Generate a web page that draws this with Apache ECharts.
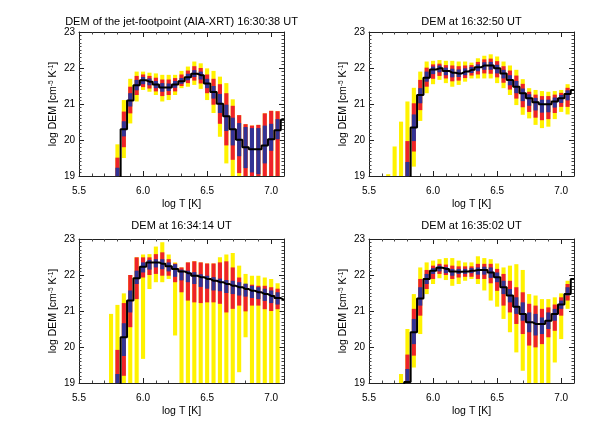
<!DOCTYPE html>
<html><head><meta charset="utf-8">
<script src="https://cdn.jsdelivr.net/npm/echarts@6/dist/echarts.min.js"></script>
<style>html,body{margin:0;padding:0;background:#fff}#c{width:598px;height:434px}</style>
</head><body><div id="c"></div>
<script>
// temperature bins (log T)
const logT = [5.65,5.70,5.75,5.80,5.85,5.90,5.95,6.00,6.05,6.10,6.15,6.20,6.25,6.30,6.35,6.40,6.45,6.50,6.55,6.60,6.65,6.70,6.75,6.80,6.85,6.90,6.95,7.00,7.05,7.10];
const xTicks = [5.5, 6.0, 6.5, 7.0];
const yTicks = [19, 20, 21, 22, 23];
const titles = ['DEM of the jet-footpoint (AIA-XRT) 16:30:38 UT','DEM at 16:32:50 UT','DEM at 16:34:14 UT','DEM at 16:35:02 UT'];

// Panel 1
const dem1   = [18.5,18.5,18.5,18.6,20.30,21.10,21.52,21.66,21.62,21.54,21.46,21.46,21.54,21.63,21.74,21.84,21.80,21.57,21.33,21.01,20.66,20.30,20.01,19.80,19.74,19.74,19.85,20.02,20.27,20.56];
const yelHi1 = [null,null,null,19.88,21.11,21.70,21.90,21.90,21.87,21.85,21.81,21.81,21.81,21.92,22.04,22.18,22.13,21.99,21.92,21.76,21.58,21.13,20.69,20.44,20.40,20.42,20.74,20.81,20.80,null];
const yelLo1 = [null,null,null,18,19.50,20.46,21.07,21.39,21.34,21.25,21.07,21.11,21.25,21.44,21.48,21.53,21.42,21.11,20.75,20.09,19.35,18,18,18,18,18,18,18,18,null];
const redHi1 = [null,null,null,19.51,20.79,21.48,21.78,21.82,21.78,21.73,21.68,21.68,21.72,21.82,21.93,22.05,22.00,21.82,21.70,21.55,21.30,20.95,20.69,20.44,20.40,20.42,20.74,20.81,20.80,null];
const redLo1 = [null,null,null,18,19.80,20.74,21.25,21.47,21.43,21.35,21.22,21.25,21.35,21.50,21.58,21.65,21.57,21.30,20.98,20.45,19.85,19.45,19.08,18,18,18,18,18,18,null];
const bluHi1 = [null,null,null,19.23,20.52,21.30,21.67,21.75,21.71,21.64,21.58,21.57,21.64,21.72,21.84,21.94,21.90,21.70,21.50,21.28,20.98,20.62,20.47,20.36,20.33,20.33,20.40,20.45,20.58,null];
const bluLo1 = [null,null,null,18,20.10,20.93,21.38,21.55,21.52,21.44,21.34,21.36,21.45,21.56,21.66,21.75,21.68,21.44,21.15,20.75,20.25,19.85,19.55,19.22,19.10,19.05,19.35,19.70,20.02,null];

// Panel 2
const dem2   = [18.5,18.5,18.5,18.6,20.35,21.25,21.73,21.96,21.99,21.92,21.87,21.85,21.90,21.95,22.02,22.07,22.07,21.99,21.85,21.67,21.48,21.30,21.16,21.05,20.99,20.99,21.07,21.16,21.28,21.39];
const yelHi2 = [19.05,19.82,20.51,21.07,21.45,21.90,22.18,22.20,22.22,22.20,22.20,22.18,22.18,22.15,22.27,22.34,22.38,22.32,22.18,22.07,21.95,21.69,21.44,21.39,21.36,21.34,21.36,21.39,21.55,null];
const yelLo2 = [18,18,18,18,19.26,20.53,21.30,21.55,21.67,21.58,21.48,21.53,21.62,21.71,21.71,21.71,21.71,21.58,21.44,21.25,20.97,20.70,20.60,20.42,20.33,20.37,20.58,20.78,20.71,null];
const redHi2 = [null,null,null,19.97,21.02,21.67,22.01,22.10,22.12,22.08,22.07,22.05,22.07,22.08,22.17,22.24,22.26,22.19,22.05,21.93,21.79,21.56,21.34,21.26,21.22,21.22,21.26,21.31,21.45,null];
const redLo2 = [null,null,null,18,19.68,20.83,21.48,21.70,21.78,21.71,21.63,21.65,21.72,21.79,21.82,21.85,21.84,21.74,21.59,21.40,21.15,20.91,20.78,20.62,20.55,20.58,20.75,20.92,20.92,null];
const bluHi2 = [null,null,null,19.39,20.71,21.44,21.90,22.04,22.07,22.01,21.98,21.96,21.99,22.03,22.10,22.16,22.17,22.09,21.95,21.80,21.64,21.43,21.27,21.17,21.12,21.12,21.18,21.25,21.38,null];
const bluLo2 = [null,null,null,18,19.97,21.02,21.62,21.83,21.88,21.80,21.74,21.75,21.80,21.86,21.91,21.95,21.95,21.85,21.71,21.52,21.30,21.08,20.95,20.82,20.76,20.77,20.90,21.03,21.10,null];

// Panel 3
const dem3   = [18.5,18.5,18.5,18.6,20.27,21.29,21.91,22.23,22.35,22.35,22.31,22.24,22.17,22.10,22.05,21.98,21.94,21.89,21.84,21.80,21.75,21.70,21.66,21.61,21.56,21.52,21.47,21.42,21.36,21.31];
const yelHi3 = [null,null,20.92,21.17,21.49,22.00,22.49,22.57,22.58,22.79,22.91,22.57,22.35,22.21,22.35,22.38,22.35,22.32,22.32,22.49,22.57,22.61,22.26,22.03,21.98,21.98,21.93,21.89,21.77,null];
const yelLo3 = [null,null,18,18,18,18,18,19.67,21.61,21.80,21.80,21.89,20.32,18,18,18,18,18,18,18,18,18,19.30,20.27,18,18,18,18,18,null];
const redHi3 = [null,null,null,19.92,21.22,22.00,22.49,22.49,22.49,22.58,22.63,22.44,22.32,22.21,22.35,22.38,22.35,22.32,22.32,22.35,22.38,22.21,21.93,21.75,21.73,21.70,21.70,21.66,21.62,null];
const redLo3 = [null,null,null,18,19.20,20.55,21.33,21.93,22.00,22.03,21.98,21.98,21.80,21.52,21.29,21.24,21.22,21.24,21.24,21.20,20.96,21.06,21.15,20.99,21.15,21.15,21.05,21.00,21.05,null];
const bluHi3 = [null,null,null,19.25,20.66,21.57,22.12,22.35,22.42,22.44,22.44,22.35,22.30,22.15,22.12,22.08,22.02,21.98,21.94,21.90,21.86,21.84,21.80,21.76,21.70,21.66,21.62,21.57,21.52,null];
const bluLo3 = [null,null,null,18,19.75,20.96,21.75,22.07,22.15,22.21,22.16,22.10,21.95,21.85,21.80,21.75,21.67,21.62,21.57,21.55,21.50,21.47,21.43,21.40,21.36,21.33,21.28,21.22,21.18,null];

// Panel 4
const dem4   = [18.5,18.5,18.5,19.03,20.41,21.35,21.89,22.12,22.20,22.17,22.10,22.09,22.10,22.12,22.14,22.14,22.07,21.94,21.66,21.43,21.12,20.92,20.69,20.64,20.64,20.73,20.92,21.18,21.47,21.89];
const yelHi4 = [null,null,19.25,20.50,21.47,22.21,22.35,22.40,22.44,22.47,22.47,22.40,22.35,22.35,22.52,22.47,22.44,22.32,22.21,22.26,22.30,22.14,21.47,21.43,21.33,21.33,21.38,21.49,21.84,null];
const yelLo4 = [null,null,18,18,19.43,20.36,21.47,21.75,21.91,21.86,21.70,21.75,21.84,21.89,21.75,21.57,21.29,21.12,20.78,20.41,19.85,19.34,18,18,18,18,19.57,20.22,21.06,null];
const redHi4 = [null,null,null,19.79,21.06,21.89,22.14,22.26,22.31,22.29,22.26,22.24,22.24,22.24,22.31,22.31,22.31,22.17,22.03,21.84,21.66,21.52,21.20,21.15,21.06,21.10,21.18,21.38,21.75,null];
const redLo4 = [null,null,null,18,19.76,20.87,21.61,21.89,22.03,22.00,21.89,21.93,21.95,21.95,21.89,21.89,21.77,21.56,21.15,20.96,20.64,20.36,20.04,19.99,20.08,20.27,20.45,20.87,21.29,null];
const bluHi4 = [null,null,null,19.39,20.78,21.66,22.03,22.19,22.26,22.22,22.17,22.17,22.17,22.19,22.21,22.23,22.21,22.07,21.84,21.61,21.38,21.24,20.96,20.92,20.82,20.96,21.06,21.29,21.66,null];
const bluLo4 = [null,null,null,18,20.08,21.15,21.75,22.03,22.10,22.05,21.98,22.03,22.03,22.05,22.01,22.01,21.92,21.80,21.47,21.24,20.92,20.73,20.41,20.32,20.36,20.50,20.73,21.06,21.43,null];

const panels = [
  {dem: dem1, yLo: yelLo1, yHi: yelHi1, rLo: redLo1, rHi: redHi1, bLo: bluLo1, bHi: bluHi1},
  {dem: dem2, yLo: yelLo2, yHi: yelHi2, rLo: redLo2, rHi: redHi2, bLo: bluLo2, bHi: bluHi2},
  {dem: dem3, yLo: yelLo3, yHi: yelHi3, rLo: redLo3, rHi: redHi3, bLo: bluLo3, bHi: bluHi3},
  {dem: dem4, yLo: yelLo4, yHi: yelHi4, rLo: redLo4, rHi: redHi4, bLo: bluLo4, bHi: bluHi4}
];

const FONT = '"Liberation Sans", Arial, Helvetica, sans-serif';
const YEL = '#fff200', RED = '#ee2229', BLU = '#323294';
const AX = '#222';
const gridPos = [[79, 32], [369, 32], [79, 239], [369, 239]];
const GW = 205, GH = 144;
const binW = logT[1] - logT[0];

const grids = [], xAxes = [], yAxes = [], series = [], ttl = [];
const nz = v => (v === null || v === undefined) ? NaN : v;

panels.forEach((p, i) => {
  const [gl, gt] = gridPos[i];
  grids.push({left: gl, top: gt, width: GW, height: GH});
  ttl.push({text: titles[i], left: gl + GW / 2, top: i < 2 ? 16 : 220, textAlign: 'center', padding: 0,
    textStyle: {fontSize: 11, fontWeight: 'normal', color: '#000', fontFamily: FONT}});
  const common = {gridIndex: i, type: 'value', splitLine: {show: false},
    axisLine: {show: true, onZero: false, lineStyle: {color: AX, width: 1}},
    axisTick: {show: true, inside: true, length: 5, lineStyle: {color: AX}},
    minorSplitLine: {show: false}};
  const xc = Object.assign({}, common, {min: xTicks[0], max: 7.1, interval: xTicks[1] - xTicks[0],
    minorTick: {show: true, splitNumber: 5, length: 2.5, lineStyle: {color: '#444'}}});
  const yc = Object.assign({}, common, {min: yTicks[0], max: yTicks[yTicks.length - 1], interval: yTicks[1] - yTicks[0],
    minorTick: {show: true, splitNumber: 10, length: 2.5, lineStyle: {color: '#444'}}});
  xAxes.push(Object.assign({}, xc, {position: 'bottom',
    axisLabel: {show: true, fontSize: 10, color: '#000', fontFamily: FONT, margin: 10, showMaxLabel: false,
      formatter: v => (xTicks.indexOf(+v.toFixed(2)) >= 0 ? v.toFixed(1) : '')},
    name: 'log T [K]', nameLocation: 'middle', nameGap: 23,
    nameTextStyle: {fontSize: 10.5, color: '#000', fontFamily: FONT}}));
  xAxes.push(Object.assign({}, xc, {position: 'top', axisLabel: {show: false}}));
  yAxes.push(Object.assign({}, yc, {position: 'left',
    axisLabel: {show: true, fontSize: 10, color: '#000', fontFamily: FONT, margin: 4},
    name: '{a|log DEM [cm}{s|-5}{a| K}{s|-1}{a|]}', nameLocation: 'middle', nameGap: 20,
    nameTextStyle: {fontSize: 10.5, color: '#000', fontFamily: FONT,
      rich: {a: {fontSize: 10.5, fontFamily: FONT, color: '#000'},
             s: {fontSize: 6.5, fontFamily: FONT, color: '#000', verticalAlign: 'top'}}}}));
  yAxes.push(Object.assign({}, yc, {position: 'right', axisLabel: {show: false}}));

  const barData = [];
  logT.forEach((t, k) => {
    if (p.yHi[k] === null) return;
    barData.push([t, nz(p.yLo[k]), nz(p.yHi[k]), nz(p.rLo[k]), nz(p.rHi[k]), nz(p.bLo[k]), nz(p.bHi[k])]);
  });
  series.push({
    type: 'custom', xAxisIndex: 2 * i, yAxisIndex: 2 * i, clip: true, z: 2,
    dimensions: ['t', 'yLo', 'yHi', 'rLo', 'rHi', 'bLo', 'bHi'],
    encode: {x: 0, y: [1, 2, 3, 4, 5, 6]},
    data: barData,
    renderItem: (params, api) => {
      const t = api.value(0);
      const w = api.size([binW, 0])[0] * 0.64;
      const kids = [];
      [[1, 2, YEL], [3, 4, RED], [5, 6, BLU]].forEach(([a, b, col]) => {
        const lo = api.value(a), hi = api.value(b);
        if (isNaN(lo) || isNaN(hi)) return;
        const p1 = api.coord([t, hi]), p2 = api.coord([t, lo]);
        kids.push({type: 'rect', shape: {x: p1[0] - w / 2, y: p1[1], width: w, height: p2[1] - p1[1]},
          style: {fill: col}});
      });
      return {type: 'group', children: kids};
    }
  });
  series.push({
    type: 'line', xAxisIndex: 2 * i, yAxisIndex: 2 * i, step: 'middle', clip: true, z: 3,
    symbol: 'none', showSymbol: false,
    data: logT.map((t, k) => [t, p.dem[k]]),
    lineStyle: {color: '#000', width: 2}
  });
});

const chart = echarts.init(document.getElementById('c'), null, {renderer: 'canvas'});
chart.setOption({
  animation: false,
  backgroundColor: '#fff',
  textStyle: {fontFamily: FONT},
  title: ttl,
  grid: grids,
  xAxis: xAxes,
  yAxis: yAxes,
  series: series
});
</script>
</body></html>
